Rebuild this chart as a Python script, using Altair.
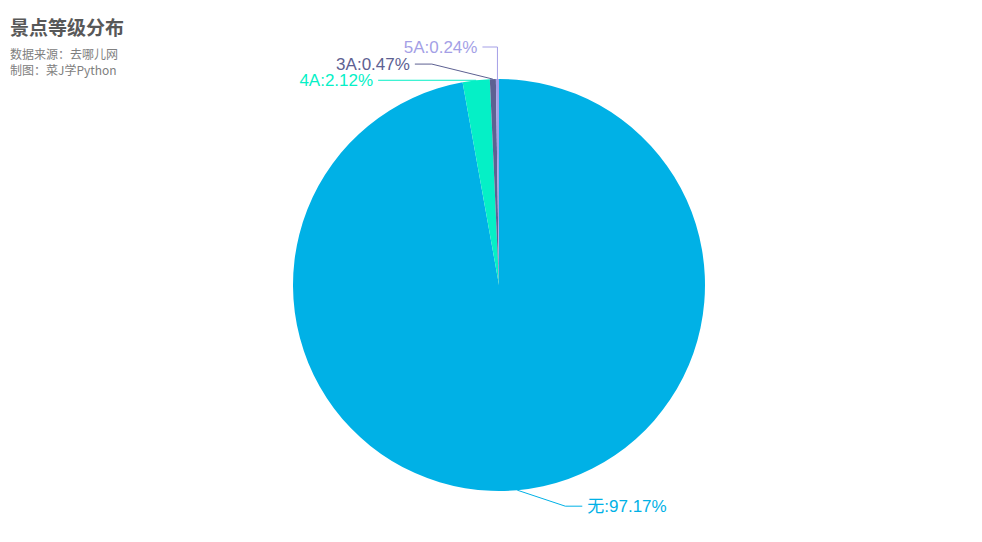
import math
import altair as alt
import pandas as pd

# ---- data ----
categories = ["无", "4A", "3A", "5A"]
percents = [97.17, 2.12, 0.47, 0.24]
colors = ["#00b1e6", "#05f0c6", "#5d6192", "#a49fe6"]

# ---- layout (chart coordinates) ----
W, H = 966, 526
CX, CY, R = 491, 277, 206
FONT = "Liberation Sans, Noto Sans CJK SC"
CJK = "Noto Sans CJK SC"
# leader-line elbow offsets relative to slice edge point, horizontal leg length, side
elbow_dx = [48, 0, -61, 0]
elbow_dy = [16, 0, -15, -32]
leg_len = [17, 98, 17, 15]
side = [1, -1, -1, -1]

df = pd.DataFrame({"cat": categories, "pct": percents, "order": range(len(categories))})
df["label"] = [f"{c}:{p:.2f}%" for c, p in zip(categories, percents)]

total = sum(percents)
rows_line, rows_text = [], []
cum = 0.0
for i, (c, p) in enumerate(zip(categories, percents)):
    mid = (cum + p / 2) / total * 2 * math.pi
    cum += p
    ex = CX + R * math.sin(mid)
    ey = CY - R * math.cos(mid)
    bx, by = ex + elbow_dx[i], ey + elbow_dy[i]
    fx = bx + side[i] * leg_len[i]
    for k, (px, py) in enumerate([(ex, ey), (bx, by), (fx, by)]):
        rows_line.append({"cat": c, "k": k, "x": px, "y": py})
    rows_text.append({"cat": c, "label": df["label"][i], "x": fx + side[i] * 5, "y": by,
                      "align": "left" if side[i] > 0 else "right"})

lines_df = pd.DataFrame(rows_line)
text_df = pd.DataFrame(rows_text)

xs = alt.Scale(domain=[0, W], range=[0, W])
ys = alt.Scale(domain=[0, H], range=[0, H])
color = alt.Color("cat:N", scale=alt.Scale(domain=categories, range=colors), legend=None)

pie = alt.Chart(df).mark_arc(radius=R).encode(
    theta=alt.Theta("pct:Q", stack=True),
    order=alt.Order("order:Q"),
    color=color,
    x=alt.value(CX),
    y=alt.value(CY),
)

leaders = alt.Chart(lines_df).mark_line(strokeWidth=1).encode(
    x=alt.X("x:Q", scale=xs, axis=None),
    y=alt.Y("y:Q", scale=ys, axis=None),
    detail="cat:N",
    order="k:Q",
    color=color,
)

label_left = alt.Chart(text_df[text_df["align"] == "left"]).mark_text(
    align="left", baseline="middle", fontSize=17, font=FONT, dy=1
).encode(x=alt.X("x:Q", scale=xs, axis=None), y=alt.Y("y:Q", scale=ys, axis=None),
         text="label:N", color=color)
label_right = alt.Chart(text_df[text_df["align"] == "right"]).mark_text(
    align="right", baseline="middle", fontSize=17, font=FONT, dy=1
).encode(x=alt.X("x:Q", scale=xs, axis=None), y=alt.Y("y:Q", scale=ys, axis=None),
         text="label:N", color=color)

title = alt.Chart(pd.DataFrame({"t": ["景点等级分布"]})).mark_text(
    align="left", baseline="middle", fontSize=19, fontWeight="bold", font=CJK, color="#585858"
).encode(x=alt.value(2), y=alt.value(21), text="t:N")
sub = alt.Chart(pd.DataFrame({"t": ["数据来源：去哪儿网", "制图：菜J学Python"], "i": [0, 1]})).mark_text(
    align="left", baseline="middle", fontSize=12, font=CJK, color="#808080"
).encode(x=alt.value(2), y=alt.Y("i:Q", scale=alt.Scale(domain=[0, 1], range=[47, 63]), axis=None), text="t:N")

chart = alt.layer(pie, leaders, label_left, label_right, title, sub).resolve_scale(y="independent").properties(
    width=W, height=H, padding=0, autosize=alt.AutoSizeParams(type="none"), background="white"
).configure_view(stroke=None)

chart.save("out.html", embed_options={"renderer": "svg", "actions": False})
